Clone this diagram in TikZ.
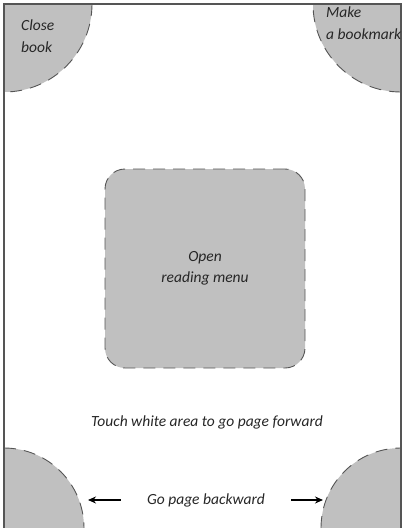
\documentclass[tikz,border=0pt]{standalone}
\usepackage{fontspec}
\setmainfont{Carlito}
\usetikzlibrary{arrows.meta,positioning}

\definecolor{padgray}{HTML}{C0C0C0}
\definecolor{edgegray}{HTML}{555555}
\definecolor{framegray}{HTML}{555555}

\begin{document}
\begin{tikzpicture}[
  x=1pt, y=1pt,
  font=\fontsize{15.5}{21.5}\selectfont\itshape,
  zone/.style={fill=padgray},
  zoneedge/.style={draw=edgegray, line width=0.9pt, dash pattern=on 12pt off 8pt},
  hint/.style={align=center, inner sep=0pt, text=black!85},
  cornerhint/.style={align=left, inner sep=0pt, text=black!85, anchor=north west},
  turn/.style={-{Stealth[length=8pt,width=7pt]}, line width=1.6pt}
]
\useasboundingbox (0,0) rectangle (404,-528);
\clip (0,0) rectangle (404,-528);

% corner zones
\fill[zone] (4,-4) -- (92,-4) arc[start angle=0, end angle=-90, radius=88] -- cycle;
\draw[zoneedge] (92,-4) arc[start angle=0, end angle=-90, radius=88];
\fill[zone] (401,-4) -- (401,-92) arc[start angle=-90, end angle=-180, radius=88] -- cycle;
\draw[zoneedge] (401,-92) arc[start angle=-90, end angle=-180, radius=88];
\fill[zone] (4,-528) -- (4,-448) arc[start angle=90, end angle=0, radius=80] -- cycle;
\draw[zoneedge] (4,-448) arc[start angle=90, end angle=0, radius=80];
\fill[zone] (401,-528) -- (321,-528) arc[start angle=180, end angle=90, radius=80] -- cycle;
\draw[zoneedge] (321,-528) arc[start angle=180, end angle=90, radius=80];

% page frame
\draw[framegray, line width=1.2pt] (4,-540) -- (4,-4) -- (401,-4) -- (401,-540);

% centre zone
\node[zone, zoneedge, rounded corners=20pt, minimum width=200pt, minimum height=199pt,
  inner sep=0pt] (menu) at (205,-268.5) {};
\node[hint] (menutext) at (menu.center) {Open\\reading menu};

\node[cornerhint] (close) at (21,-20) {Close\\book};
\node[cornerhint] (mark) at (326,-7) {Make\\a bookmark};

\node[hint] (forward) at (207,-422) {Touch white area to go page forward};
\node[hint] (back) at (206,-500) {Go page backward};

\coordinate (backtip) at (88,-500);
\coordinate (fwdtip) at (323,-500);
\draw[turn, shorten <=26pt] (back.west) -- (backtip);
\draw[turn, shorten <=26pt] (back.east) -- (fwdtip);

\end{tikzpicture}
\end{document}
